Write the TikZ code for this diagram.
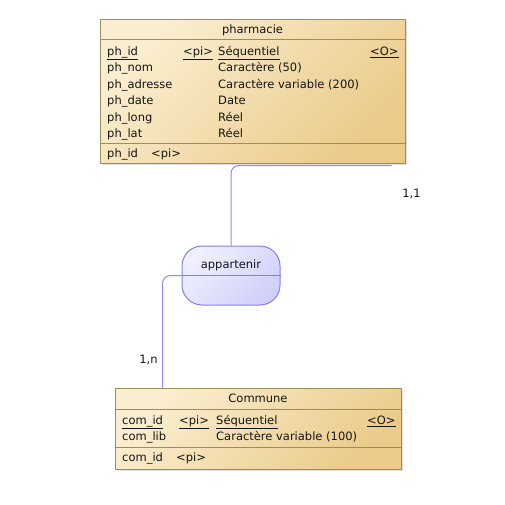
\documentclass[tikz,border=0pt]{standalone}
\usepackage{fontspec}
\setmainfont{DejaVu Sans}
\usetikzlibrary{positioning,shadows}

\definecolor{entlight}{RGB}{251,238,208}
\definecolor{entdark}{RGB}{234,203,138}
\definecolor{entborder}{RGB}{150,145,88}
\definecolor{asslight}{RGB}{240,240,255}
\definecolor{assdark}{RGB}{208,208,250}
\definecolor{assborder}{RGB}{128,128,240}
\definecolor{linkblue}{RGB}{140,140,250}

\begin{document}
\begin{tikzpicture}[
    x=1pt, y=-1pt,
    entity/.style={
        draw=entborder,
        line width=1pt,
        top color=entlight,
        bottom color=entdark,
        shading angle=45,
        drop shadow={shadow xshift=1.5pt, shadow yshift=-1.5pt, fill=black, opacity=0.12},
        inner sep=0pt},
    assoc/.style={
        draw=assborder,
        line width=1pt,
        top color=asslight,
        bottom color=assdark,
        shading angle=45,
        rounded corners=20pt,
        minimum width=98pt,
        minimum height=59pt,
        inner sep=0pt},
    attr/.style={anchor=base west, inner sep=0pt, text=black!92,
        font=\fontsize{11.5}{13}\selectfont},
    title/.style={attr, anchor=base},
    card/.style={title},
    entsep/.style={draw=entborder, line width=1pt},
    link/.style={draw=linkblue, line width=1pt, rounded corners=8pt}
    ]
    \useasboundingbox (0,0) rectangle (505,505);

    % entities and association
    \node[entity, minimum width=305pt, minimum height=143pt] (pharmacie) at (252.5,91.5) {};
    \node[entity, minimum width=286pt, minimum height=81pt] (commune) at (258,428.5) {};
    \node[assoc] (appartenir) at (231,275.5) {};

    \draw[entsep] ([yshift=-20pt]pharmacie.north west) -- ([yshift=-20pt]pharmacie.north east);
    \draw[entsep] ([yshift=20pt]pharmacie.south west) -- ([yshift=20pt]pharmacie.south east);
    \draw[entsep] ([yshift=-22pt]commune.north west) -- ([yshift=-22pt]commune.north east);
    \draw[entsep] ([yshift=22pt]commune.south west) -- ([yshift=22pt]commune.south east);
    \draw[draw=assborder, line width=1pt] (appartenir.west) -- (appartenir.east);

    % pharmacie
    \node[title] (ph-title) at (252.5,33.5) {pharmacie};
    \node[attr] (ph-id) at (107,55.5) {\underline{ph\_id}};
    \node[attr] (ph-id-pi) at (183,55.5) {\underline{<pi>}};
    \node[attr] (ph-id-type) at (218,55.5) {\underline{Séquentiel}};
    \node[attr] (ph-id-o) at (370,55.5) {\underline{<O>}};
    \foreach \i/\y/\nom/\typ in {% name/baseline/attribute/type
        nom/72/ph\_nom/Caractère (50),
        adresse/88.4/ph\_adresse/Caractère variable (200),
        date/104.8/ph\_date/Date,
        long/121.2/ph\_long/Réel,
        lat/137.4/ph\_lat/Réel}
    {
        \node[attr] (ph-\i) at (107,\y) {\nom};
        \node[attr] (ph-\i-type) at (218,\y) {\typ};
    }
    \node[attr] (ph-key) at (107,157.5) {ph\_id};
    \node[attr] (ph-key-pi) at (151,157.5) {<pi>};

    % commune
    \node[title] (com-title) at (258,402.5) {Commune};
    \node[attr] (com-id) at (122,424.5) {\underline{com\_id}};
    \node[attr] (com-id-pi) at (179,424.5) {\underline{<pi>}};
    \node[attr] (com-id-type) at (216,424.5) {\underline{Séquentiel}};
    \node[attr] (com-id-o) at (367,424.5) {\underline{<O>}};
    \node[attr] (com-lib) at (122,440.5) {com\_lib};
    \node[attr] (com-lib-type) at (216,440.5) {Caractère variable (100)};
    \node[attr] (com-key) at (122,461.5) {com\_id};
    \node[attr] (com-key-pi) at (176,461.5) {<pi>};

    % association
    \node[title] (app-title) at (231,268) {appartenir};

    % links
    \draw[link] ([shift={(-14,2)}]pharmacie.south east) -| (appartenir.north);
    \draw[link] (appartenir.west) -| ([xshift=48pt]commune.north west);
    \node[card] (card-ph) at (411.5,197) {1,1};
    \node[card] (card-com) at (148.5,363) {1,n};
\end{tikzpicture}
\end{document}
